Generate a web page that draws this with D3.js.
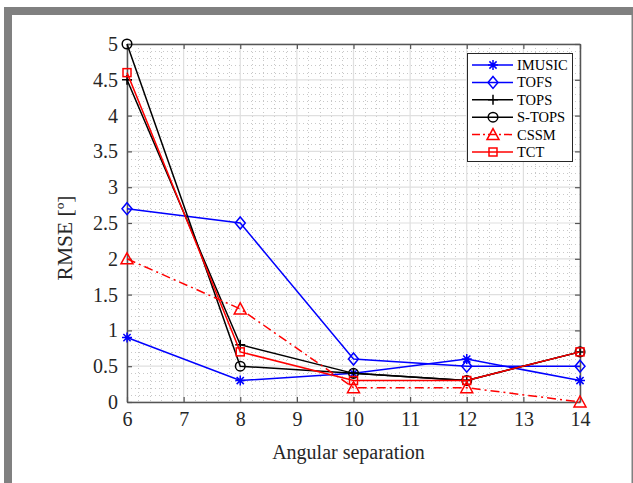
<!DOCTYPE html>
<html>
<head>
<meta charset="utf-8">
<script src="https://cdn.jsdelivr.net/npm/d3@7"></script>
<style>
  html, body { margin: 0; padding: 0; background: #fff; }
  svg { display: block; font-family: "Liberation Serif", "Times New Roman", serif; }
  svg text { font-family: "Liberation Serif", "Times New Roman", serif; }
</style>
</head>
<body>
<svg id="chart" width="633" height="483"></svg>
<script>
// Angular separation values and RMSE of each estimator
const separations = [6, 8, 10, 12, 14];
const imusic = [0.9, 0.3, 0.4, 0.6, 0.3];
const tofs   = [2.7, 2.5, 0.6, 0.5, 0.5];
const tops   = [4.5, 0.8, 0.4, 0.3, 0.7];
const stops  = [5.0, 0.5, 0.4, 0.3, 0.7];
const cssm   = [2.0, 1.3, 0.2, 0.2, 0.0];
const tct    = [4.6, 0.7, 0.3, 0.3, 0.7];

const xTicks = [6, 7, 8, 9, 10, 11, 12, 13, 14];
const yTicks = [0, 0.5, 1, 1.5, 2, 2.5, 3, 3.5, 4, 4.5, 5];

const series = [
  { name: "IMUSIC", values: imusic, color: "#0000ff", marker: "asterisk", dash: null },
  { name: "TOFS",   values: tofs,   color: "#0000ff", marker: "diamond",  dash: null },
  { name: "TOPS",   values: tops,   color: "#000000", marker: "plus",     dash: null },
  { name: "S-TOPS", values: stops,  color: "#000000", marker: "circle",   dash: null },
  { name: "CSSM",   values: cssm,   color: "#ff0000", marker: "triangle", dash: "9,4,2,4" },
  { name: "TCT",    values: tct,    color: "#ff0000", marker: "square",   dash: null }
];

const svg = d3.select("#chart");
const W = 633, H = 483;
const serif = "'Liberation Serif', 'Times New Roman', serif";

// outer frame
svg.append("rect").attr("x", 4).attr("y", 7).attr("width", W - 4).attr("height", 8).attr("fill", "#808080");
svg.append("rect").attr("x", 4).attr("y", 7).attr("width", 8).attr("height", H - 7).attr("fill", "#808080");
svg.append("rect").attr("x", 631.5).attr("y", 15).attr("width", 1.5).attr("height", H - 15).attr("fill", "#808080");

const plot = { left: 127, right: 580, top: 44, bottom: 402 };
const x = d3.scaleLinear().domain([6, 14]).range([plot.left, plot.right]);
const y = d3.scaleLinear().domain([0, 5]).range([plot.bottom, plot.top]);

const g = svg.append("g");

// minor grid (dotted)
const xMinor = d3.range(6, 14.0001, 0.2).filter(v => Math.abs(v - Math.round(v)) > 1e-6);
const yMinor = d3.range(0, 5.0001, 0.1).filter(v => Math.abs(v * 2 - Math.round(v * 2)) > 1e-6);
g.selectAll(".xminor").data(xMinor).join("line")
  .attr("x1", d => Math.round(x(d)) + 0.5).attr("x2", d => Math.round(x(d)) + 0.5)
  .attr("y1", plot.top).attr("y2", plot.bottom)
  .attr("stroke", "#c8c8c8").attr("stroke-width", 1).attr("stroke-dasharray", "1,3");
g.selectAll(".yminor").data(yMinor).join("line")
  .attr("y1", d => Math.round(y(d)) + 0.5).attr("y2", d => Math.round(y(d)) + 0.5)
  .attr("x1", plot.left).attr("x2", plot.right)
  .attr("stroke", "#c8c8c8").attr("stroke-width", 1).attr("stroke-dasharray", "1,3");

// major grid
g.selectAll(".xgrid").data(xTicks).join("line")
  .attr("x1", d => x(d)).attr("x2", d => x(d))
  .attr("y1", plot.top).attr("y2", plot.bottom)
  .attr("stroke", "#dfdfdf").attr("stroke-width", 1.2);
g.selectAll(".ygrid").data(yTicks).join("line")
  .attr("y1", d => y(d)).attr("y2", d => y(d))
  .attr("x1", plot.left).attr("x2", plot.right)
  .attr("stroke", "#dfdfdf").attr("stroke-width", 1.2);

// axes (box with inward ticks on all sides)
const axisColor = "#555555";
const tickLen = 5;
const fontSize = 20;

const xAxis = d3.axisBottom(x).tickValues(xTicks).tickFormat(d3.format("d")).tickSizeInner(-tickLen).tickSizeOuter(0).tickPadding(10);
const xAxisTop = d3.axisTop(x).tickValues(xTicks).tickFormat("").tickSizeInner(-tickLen).tickSizeOuter(0);
const yAxis = d3.axisLeft(y).tickValues(yTicks).tickFormat(d => d3.format("")(d)).tickSizeInner(-tickLen).tickSizeOuter(0).tickPadding(9);
const yAxisRight = d3.axisRight(y).tickValues(yTicks).tickFormat("").tickSizeInner(-tickLen).tickSizeOuter(0);

function styleAxis(sel) {
  sel.attr("font-family", serif).attr("font-size", fontSize);
  sel.select(".domain").attr("stroke", axisColor).attr("stroke-width", 1.5);
  sel.selectAll(".tick line").attr("stroke", axisColor).attr("stroke-width", 1.2);
  sel.selectAll(".tick text").attr("fill", "#262626").attr("font-size", fontSize).attr("font-family", serif);
}

g.append("g").attr("transform", `translate(0,${plot.bottom})`).call(xAxis).call(styleAxis);
g.append("g").attr("transform", `translate(0,${plot.top})`).call(xAxisTop).call(styleAxis);
g.append("g").attr("transform", `translate(${plot.left},0)`).call(yAxis).call(styleAxis);
g.append("g").attr("transform", `translate(${plot.right},0)`).call(yAxisRight).call(styleAxis);

// axis labels
svg.append("text").attr("x", (plot.left + plot.right) / 2 - 5).attr("y", 459)
  .attr("text-anchor", "middle").attr("font-size", 20).attr("fill", "#262626").attr("font-family", serif)
  .text("Angular separation");
svg.append("text").attr("transform", `translate(72,${(plot.top + plot.bottom) / 2 + 15}) rotate(-90)`)
  .attr("text-anchor", "middle").attr("font-size", 21.5).attr("fill", "#262626").attr("font-family", serif)
  .text("RMSE [º]");

// marker drawing
function drawMarker(sel, type, color) {
  const s = 5;
  if (type === "circle") {
    sel.append("circle").attr("r", 4.8).attr("fill", "none").attr("stroke", color).attr("stroke-width", 1.5);
  } else if (type === "square") {
    sel.append("rect").attr("x", -4).attr("y", -4).attr("width", 8).attr("height", 8)
      .attr("fill", "none").attr("stroke", color).attr("stroke-width", 1.5);
  } else if (type === "diamond") {
    sel.append("path").attr("d", `M0,${-6}L${5},0L0,${6}L${-5},0Z`)
      .attr("fill", "none").attr("stroke", color).attr("stroke-width", 1.5);
  } else if (type === "triangle") {
    sel.append("path").attr("d", `M0,${-6}L${6},${5}L${-6},${5}Z`)
      .attr("fill", "none").attr("stroke", color).attr("stroke-width", 1.5);
  } else if (type === "plus") {
    sel.append("path").attr("d", `M${-s},0H${s}M0,${-s}V${s}`)
      .attr("fill", "none").attr("stroke", color).attr("stroke-width", 1.5);
  } else if (type === "asterisk") {
    const a = 3.6;
    sel.append("path").attr("d", `M${-s},0H${s}M0,${-s}V${s}M${-a},${-a}L${a},${a}M${-a},${a}L${a},${-a}`)
      .attr("fill", "none").attr("stroke", color).attr("stroke-width", 1.5);
  }
}

// series lines and markers
const line = d3.line().x(d => x(d[0])).y(d => y(d[1]));
const seriesG = svg.append("g");
series.forEach(s => {
  const pts = separations.map((v, i) => [v, s.values[i]]);
  seriesG.append("path").datum(pts).attr("d", line)
    .attr("fill", "none").attr("stroke", s.color).attr("stroke-width", 1.5)
    .attr("stroke-dasharray", s.dash);
  pts.forEach(p => {
    const m = seriesG.append("g").attr("transform", `translate(${x(p[0])},${y(p[1])})`);
    drawMarker(m, s.marker, s.color);
  });
});

// legend
const legend = svg.append("g");
const lg = { x: 467, y: 53, w: 105, h: 108 };
legend.append("rect").attr("x", lg.x + 0.5).attr("y", lg.y + 0.5).attr("width", lg.w).attr("height", lg.h)
  .attr("fill", "#fff").attr("stroke", "#262626").attr("stroke-width", 1);
series.forEach((s, i) => {
  const cy = 65 + i * 17.4;
  legend.append("line").attr("x1", 472).attr("x2", 513).attr("y1", cy).attr("y2", cy)
    .attr("stroke", s.color).attr("stroke-width", 1.5).attr("stroke-dasharray", s.dash ? "8,3,2,3" : null);
  const m = legend.append("g").attr("transform", `translate(493,${cy})`);
  drawMarker(m, s.marker, s.color);
  legend.append("text").attr("x", 517).attr("y", cy + 5).attr("font-size", 14.5).attr("fill", "#000")
    .attr("font-family", serif).text(s.name);
});
</script>
</body>
</html>
